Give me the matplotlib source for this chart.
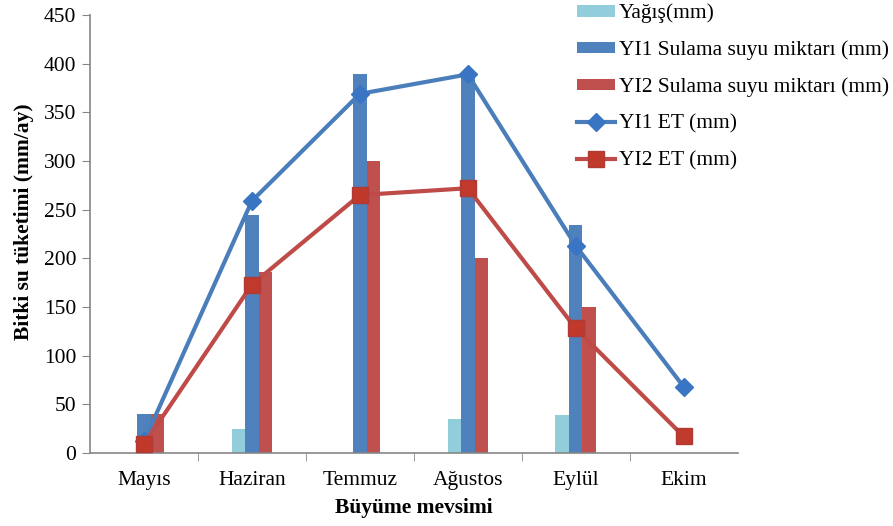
import numpy as np
import matplotlib.pyplot as plt
from matplotlib.ticker import FixedLocator

plt.rcParams['font.family'] = ['Liberation Serif', 'DejaVu Serif']

# veriler
aylar = ['Mayıs', 'Haziran', 'Temmuz', 'Ağustos', 'Eylül', 'Ekim']
yagis = [0, 25, 0, 35, 39, 0]
yi1_sulama = [40, 244, 389, 390, 234, 0]
yi2_sulama = [40, 186, 300, 200, 150, 0]
yi1_et = [12, 259, 369, 389, 213, 68]
yi2_et = [9, 173, 265, 272, 128, 17]

c_yagis = '#92cddc'
c_blue = '#4f81bd'
c_red = '#c0504d'
c_line_blue = '#4a7ebb'
c_line_red = '#be4b48'

fs = 15.5

fig = plt.figure(figsize=(8.93, 5.26), dpi=100)
ax = fig.add_axes([0.1008, 0.1388, 0.7252, 0.8327])

x = np.arange(len(aylar))
w = 0.125

b1 = ax.bar(x - w, yagis, w, color=c_yagis, label='Yağış(mm)', zorder=2)
b2 = ax.bar(x, yi1_sulama, w, color=c_blue, label='YI1 Sulama suyu miktarı (mm)', zorder=2)
b3 = ax.bar(x + w, yi2_sulama, w, color=c_red, label='YI2 Sulama suyu miktarı (mm)', zorder=2)

l1, = ax.plot(x, yi1_et, color=c_line_blue, lw=3, marker='D', ms=9,
              mfc='#3a75c4', mec='#3a75c4', label='YI1 ET (mm)', zorder=3)
l2, = ax.plot(x, yi2_et, color=c_line_red, lw=3, marker='s', ms=12,
              mfc='#c0392b', mec='#b03a36', label='YI2 ET (mm)', zorder=4)

ax.set_xlim(-0.5, len(aylar) - 0.5)
ax.set_ylim(0, 450)
ax.set_yticks(np.arange(0, 451, 50))
ax.set_xticks(x)
ax.set_xticklabels(aylar, fontsize=fs)
ax.xaxis.set_minor_locator(FixedLocator(np.arange(0.5, len(aylar) - 0.5, 1)))
ax.tick_params(axis='x', which='major', length=0, pad=13)
ax.tick_params(axis='x', which='minor', length=6, color='#868686', direction='out')
ax.tick_params(axis='y', labelsize=fs, length=6, color='#868686', direction='out', pad=4)

for s in ['top', 'right']:
    ax.spines[s].set_visible(False)
for s in ['left', 'bottom']:
    ax.spines[s].set_color('#868686')
    ax.spines[s].set_linewidth(1.2)

ax.set_ylabel('Bitki su tüketimi (mm/ay)', fontsize=fs, fontweight='bold')
ax.yaxis.set_label_coords(-0.087, 0.527)
ax.set_xlabel('Büyüme mevsimi', fontsize=fs, fontweight='bold', labelpad=6)

fig.legend([b1, b2, b3, l1, l2], [h.get_label() for h in [b1, b2, b3, l1, l2]],
           loc='upper left', bbox_to_anchor=(0.646, 0.993), frameon=False,
           fontsize=fs, handlelength=1.75, handleheight=0.45, handletextpad=0.2,
           labelspacing=0.8, borderaxespad=0, borderpad=0)

fig.savefig('out.png', dpi=100)
